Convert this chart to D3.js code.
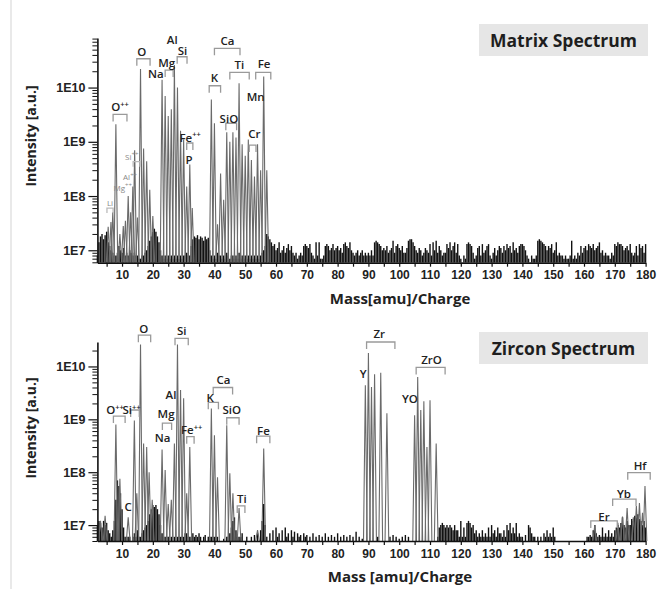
<!DOCTYPE html>
<html>
<head>
<meta charset="utf-8">
<script src="https://cdn.jsdelivr.net/npm/d3@7/dist/d3.min.js"></script>
<style>
  body { margin: 0; background: #fff; }
  svg { display: block; font-family: "Open Sans", "DejaVu Sans", sans-serif; }
</style>
</head>
<body>
<svg id="chart" width="660" height="589"></svg>
<script>
// ---------------- DATA ----------------
const massTicks = [10,20,30,40,50,60,70,80,90,100,110,120,130,140,150,160,170,180];
const intensityTickValues = [1e7, 1e8, 1e9, 1e10];
const intensityTickLabels = ["1E7", "1E8", "1E9", "1E10"];

// Noise floor, sampled every 0.5 amu starting at 2 amu, in units of 1E6
const noiseStartMass = 2;
const noiseStep = 0.5;
const matrixNoise = [
  8,14,18,20,16,19,22,14,12,10,9,8,8,9,12,10,9,11,8,9,
  8,10,9,8,9,8,8,7,7,8,8,9,10,12,15,18,22,25,22,18,
  14,10,8,7,8,7,8,7,8,7,8,7,8,7,8,7,8,8,9,8,
  8,12,16,18,17,19,16,18,17,15,18,16,17,10,8,7,8,7,9,8,
  8,7,8,7,9,8,7,8,8,7,8,7,9,7,8,7,8,7,8,7,
  8,7,8,7,8,7,8,9,10,12,20,18,16,14,12,13,10,11,14,9,
  10,12,9,11,13,10,12,9,8,9,7,8,9,8,12,13,12,11,13,9,
  8,7,14,8,14,7,7,8,12,13,12,10,11,13,10,11,12,10,11,9,
  13,14,12,11,14,10,9,8,9,10,8,9,10,8,9,8,9,8,10,8,
  14,15,14,13,12,10,11,10,12,9,10,11,15,9,12,13,11,10,12,9,
  9,11,15,16,16,14,12,10,9,11,10,8,9,11,10,9,13,8,14,10,
  15,9,12,10,8,9,9,13,11,14,10,12,14,9,13,8,7,6,8,7,
  13,14,13,12,9,7,8,11,12,8,13,9,10,12,13,8,7,9,11,8,
  10,12,11,9,12,10,13,11,12,9,14,10,11,9,12,13,13,12,10,8,
  7,6,8,7,7,8,15,16,15,14,13,12,10,12,11,13,9,10,14,8,
  9,8,8,7,8,7,7,8,15,7,8,7,9,8,12,9,11,12,10,13,
  12,11,13,10,11,12,14,9,10,8,9,8,8,7,9,8,13,12,14,13,
  13,12,10,11,12,10,13,9,8,9,12,8,13,11,12,9,13
];
const zirconNoise = [
  10,12,11,9,12,10,11,8,7,6,8,12,30,70,55,40,20,9,6,6,
  6,6,5,6,7,6,8,6,6,7,8,9,10,12,16,20,24,22,24,20,
  16,10,7,6,6,6,6,5,6,5,6,5,6,6,6,6,6,7,7,6,
  6,6,7,6,6.5,6,7,6,5,6,6.5,5,6,6,6,6,6,6,6,5,
  5,5,5.5,5,6,6,7,9,12,14,8,6,6,6,7,5,5,6,5,5,
  6,5,6.5,5,7,5,8,12,25,10,6,5,7,5,8,5,9,6,7,5,
  8,5,9,6,7,5,8,6,7.5,5,7,6,6.5,5,7,6,6.5,5,6,5,
  7,5,6,5,6.5,5,6,5,7,5,6,5,6.5,5,6,5,7,5,6,5,
  6.5,5,6,5,6.5,5,6,5,7.5,5,6,5,5.5,5,5,5,5,5,5,5,
  5,5,6,5,5,5,5,5,5,5,6,5,6.5,5,6,5,5.5,5,6,5,
  6.5,5,6,5,5,5,5,5,5,5,5,5,5,5,5,5,5,5,5,5,
  5,6,9,10,11,10,9,10,9,10,9,8,10,8,8,6,12,6,9,6,
  11,12,11,9,10,7,8,6,7,6,8,6,7,6,9,6,10,7,8,6,
  9,7,7,6,8,6,10,8,11,7,9,7,11,6,7,6,6,5,6.5,5,
  10,9,7,6,6,5,6,5,6,5,7,6,8,6,7,6,9,6,5,5,
  5,5,5,5,5,5,5,5,5,5,5,5,5,5,5,5,5,5,6,6,
  6.5,6,8,10,7,6,6.5,6,9,6,7,6,8,6,7,6,8,9,10,9,
  11,14,10,9,12,10,10,13,12,15,14,16,13,12,10,12,9
];

// Peaks (mass, intensity)
const matrixPeakMass = [5.5,6.4,7,8,9.3,10.4,11.1,12,12.8,13.5,14.1,15,16,17,18,19,20,
  23,24,25,26,27,28,29,30,31,32,32.8,39,40,41,42,43,44,45,46,47,48,49,50,51,52,53,54,55,56,57];
const matrixPeakIntensity = [2.7e7,3.3e7,5e7,2.1e9,2e7,2.8e7,3.5e7,1e8,5e7,1.5e8,7e8,4e7,2.2e10,7.5e8,4.4e8,1.3e8,4.3e7,
  1.4e10,7e9,3e9,4e9,2.6e10,1e10,1.6e9,1.1e9,1.5e8,3.8e8,6e7,6e9,2.2e9,3e7,2.6e8,8.5e7,1.5e9,1e9,1.5e9,1.2e9,1.2e10,9e8,5.5e8,1.1e9,4.6e8,2.3e8,9e8,3e8,1.6e10,3e8];

const zirconPeakMass = [3,4.5,8,9.3,12,14,14.8,16,17,18,18.8,19.8,23,24,25,26,27,28,29,30,31,32,
  39,40,41,44,45,46,48,54,56,89,90,91,92,94,96,105,106,107,108,109,110,112,
  163.5,171,172.5,174,176,177,178,179,179.8];
const zirconPeakIntensity = [1.2e7,1.5e7,8e8,7.5e7,1.4e7,9.5e8,4e7,2.6e10,3.5e8,3e8,1e8,3e7,2.7e8,1.1e8,2.5e7,3e7,3.5e8,2.6e10,3.6e9,2.5e9,4e7,3e8,
  1.6e9,5e8,8e7,7.7e8,9.5e7,4e7,2.1e7,8e6,2.8e8,4.4e9,1.8e10,4.1e9,7.1e9,7.6e9,1.3e9,1.2e9,6.3e9,1.5e9,2.2e9,3e8,2.3e9,3.5e8,
  1e7,1.1e7,1.45e7,2.1e7,1.4e7,2.3e7,2.6e7,1.7e7,5.5e7];

// Annotation labels (text, mass, intensity) and small/grey flag
const matrixLabelText  = ["O++","Si++","Al++","Mg++","Li","O","Na","Mg","Al","Si","Fe++","P","Ca","K","Ti","Fe","Mn","SiO","Cr"];
const matrixLabelMass  = [9.35,13.15,12.6,10.2,6.1,16.4,21,24.5,26.3,29.6,32.1,31.75,44.2,40,48.1,56.1,53.4,44.7,53];
const matrixLabelLevel = [4.4e9,5.3e8,2.2e8,1.4e8,7.4e7,4.5e10,1.8e10,2.9e10,7.5e10,4.8e10,1.2e9,4.6e8,7.3e10,1.5e10,2.6e10,2.7e10,6.8e9,2.6e9,1.4e9];
const matrixLabelMinor = [0,1,1,1,1,0,0,0,0,0,0,0,0,0,0,0,0,0,0];
// Brackets: start mass, end mass, intensity level
const matrixBracketStart = [7.1,13.6,5.1,14.8,24,27.9,31,40,38.3,45,53.4,43.7,51.3];
const matrixBracketEnd   = [11.6,15.8,7.1,19.1,26.6,31.1,33,48.3,42,51.3,58.3,47.2,53.5];
const matrixBracketLevel = [3.2e9,4.3e8,6e7,3.4e10,2.1e10,3.7e10,9.5e8,5.3e10,1.08e10,1.9e10,1.9e10,2.2e9,8.7e8];
const matrixBracketMinor = [0,1,1,0,0,0,0,0,0,0,0,0,0];

const zirconLabelText  = ["O++","Si++","C","O","Mg","Na","Al","Si","Fe++","Ca","K","SiO","Ti","Fe","Zr","Y","ZrO","YO","Hf","Yb","Er"];
const zirconLabelMass  = [7.7,13.1,12,17.1,24.3,23.2,25.9,29.4,32.6,42.9,38.6,45.6,48.9,55.9,93.5,88.3,110.5,103.5,178.2,173,166.5];
const zirconLabelLevel = [1.5e9,1.5e9,2.2e7,5.2e10,1.25e9,4.4e8,2.9e9,4.7e10,6.3e8,5.5e9,2.6e9,1.5e9,3.2e7,6e8,4.2e10,7.4e9,1.35e10,2.4e9,1.3e8,3.9e7,1.45e7];
const zirconBracketStart = [7.2,12.8,15.3,23.1,27.2,31,39.6,38,44,47.4,53.7,89.4,105.5,174.2,169.3,162.2];
const zirconBracketEnd   = [11,15.6,19.3,26.1,31.5,33.4,45.9,41.3,48,49.9,58,98.6,114.9,181.5,176.9,170.8];
const zirconBracketLevel = [1.15e9,1.5e9,3.9e10,8.5e8,3.4e10,4.7e8,4e9,2.1e9,1.07e9,2.3e7,4.8e8,2.9e10,9.6e9,9.8e7,3.1e7,1.2e7];

const panelTitles = ["Matrix Spectrum", "Zircon Spectrum"];
const xAxisTitles = ["Mass[amu]/Charge", "Mass [amu]/Charge"];
const yAxisTitle = "Intensity [a.u.]";

// ---------------- DRAW ----------------
const svg = d3.select("#chart");

// faint page border line at left
svg.append("line").attr("x1", 11).attr("x2", 11).attr("y1", 0).attr("y2", 589)
  .attr("stroke", "#e2e2e2").attr("stroke-width", 1.5);

const x = d3.scaleLinear().domain([2, 180]).range([97.4, 645.6]);

function drawPanel(cfg) {
  const y = d3.scaleLog().domain(cfg.yDomain).range(cfg.yRange);
  const g = svg.append("g");
  const base = cfg.yDomain[0];

  // noise
  const noisePts = cfg.noise.map((v, i) => ({ m: noiseStartMass + i * noiseStep, v: v * 1e6 }))
    .filter(d => d.v > base);
  g.append("g").selectAll("line").data(noisePts).join("line")
    .attr("x1", d => x(d.m)).attr("x2", d => x(d.m))
    .attr("y1", y(base)).attr("y2", d => y(d.v))
    .attr("stroke", "#111").attr("stroke-width", 1.4);

  // peaks
  const hw = 0.6;
  const line = d3.line().x(d => x(d[0])).y(d => y(d[1]));
  const peaks = cfg.peakMass.map((m, i) => [[m - hw, base], [m, cfg.peakInt[i]], [m + hw, base]]);
  g.append("g").selectAll("path").data(peaks).join("path")
    .attr("d", line).attr("fill", "none")
    .attr("stroke", "#6a6a6a").attr("stroke-width", 1.1);

  // x axis
  const xAxis = d3.axisBottom(x).tickValues(massTicks).tickSize(4).tickSizeOuter(0).tickPadding(4);
  const gx = g.append("g").attr("transform", `translate(0,${cfg.yRange[0]})`).call(xAxis);
  gx.selectAll("text").attr("font-size", 12).attr("font-weight", 600).attr("fill", "#222");
  const minorX = d3.axisBottom(x).tickValues(massTicks.map(t => t - 5)).tickSize(4).tickSizeOuter(0).tickFormat("");
  const gmx = g.append("g").attr("transform", `translate(0,${cfg.yRange[0]})`).call(minorX);
  gmx.select(".domain").remove();
  g.selectAll(".domain").attr("stroke", "#111").attr("stroke-width", 1.6);
  g.selectAll(".tick line").attr("stroke", "#111").attr("stroke-width", 1.2);

  // y axis
  const yAxis = d3.axisLeft(y).tickValues(intensityTickValues).tickSize(9).tickSizeOuter(0).tickPadding(3)
    .tickFormat((d, i) => intensityTickLabels[i]);
  const gy = g.append("g").attr("transform", `translate(${x(2)},0)`).call(yAxis);
  gy.selectAll("text").attr("font-size", 12.5).attr("font-weight", 700).attr("fill", "#222");
  const minorVals = y.ticks().filter(t => intensityTickValues.indexOf(t) < 0);
  const gmy = g.append("g").attr("transform", `translate(${x(2)},0)`)
    .call(d3.axisLeft(y).tickValues(minorVals).tickSize(5).tickSizeOuter(0).tickFormat(""));
  gmy.select(".domain").remove();
  gy.select(".domain").attr("stroke", "#111").attr("stroke-width", 1.6);
  gy.selectAll(".tick line").attr("stroke", "#111").attr("stroke-width", 1.2);
  gmy.selectAll(".tick line").attr("stroke", "#111").attr("stroke-width", 1);

  // brackets
  const bt = 7;
  cfg.bStart.forEach((s, i) => {
    const x1 = x(s), x2 = x(cfg.bEnd[i]), yy = y(cfg.bLevel[i]);
    const minor = cfg.bMinor && cfg.bMinor[i];
    g.append("path")
      .attr("d", `M${x1},${yy + (minor ? 5 : bt)}V${yy}H${x2}V${yy + (minor ? 5 : bt)}`)
      .attr("fill", "none").attr("stroke", minor ? "#bbb" : "#9a9a9a").attr("stroke-width", 1.3);
  });

  // labels
  cfg.lText.forEach((t, i) => {
    const minor = cfg.lMinor && cfg.lMinor[i];
    const txt = g.append("text")
      .attr("x", x(cfg.lMass[i])).attr("y", y(cfg.lLevel[i]))
      .attr("dy", "0.36em").attr("text-anchor", "middle")
      .attr("font-size", minor ? 8 : 11.5).attr("font-weight", minor ? 400 : 600)
      .attr("fill", minor ? "#888" : "#222");
    if (t.endsWith("++")) {
      txt.append("tspan").text(t.slice(0, -2));
      txt.append("tspan").text("++").attr("font-size", minor ? 6 : 7.5).attr("dy", "-0.6em");
    } else {
      txt.text(t);
    }
  });

  // title box
  g.append("rect").attr("x", 479).attr("y", cfg.boxY).attr("width", 169).attr("height", 32)
    .attr("fill", "#e6e6e6");
  g.append("text").attr("x", 563.5).attr("y", cfg.boxY + 22.5).attr("text-anchor", "middle")
    .attr("font-size", 17.5).attr("font-weight", 700).attr("fill", "#1e1e1e").text(cfg.title);

  // axis titles
  g.append("text").attr("x", 400).attr("y", cfg.xTitleY).attr("text-anchor", "middle")
    .attr("font-size", 15).attr("font-weight", 700).attr("fill", "#222").text(cfg.xTitle);
  g.append("text").attr("transform", `translate(36,${cfg.yTitleY}) rotate(-90)`)
    .attr("text-anchor", "middle")
    .attr("font-size", 14).attr("font-weight", 700).attr("fill", "#222").text(yAxisTitle);
}

drawPanel({
  yDomain: [5.9e6, 8.2e10], yRange: [262.7, 38],
  noise: matrixNoise, peakMass: matrixPeakMass, peakInt: matrixPeakIntensity,
  bStart: matrixBracketStart, bEnd: matrixBracketEnd, bLevel: matrixBracketLevel, bMinor: matrixBracketMinor,
  lText: matrixLabelText, lMass: matrixLabelMass, lLevel: matrixLabelLevel, lMinor: matrixLabelMinor,
  title: panelTitles[0], boxY: 24, xTitle: xAxisTitles[0], xTitleY: 304, yTitleY: 136
});
drawPanel({
  yDomain: [5e6, 2.9e10], yRange: [541, 342],
  noise: zirconNoise, peakMass: zirconPeakMass, peakInt: zirconPeakIntensity,
  bStart: zirconBracketStart, bEnd: zirconBracketEnd, bLevel: zirconBracketLevel, bMinor: null,
  lText: zirconLabelText, lMass: zirconLabelMass, lLevel: zirconLabelLevel, lMinor: null,
  title: panelTitles[1], boxY: 332, xTitle: xAxisTitles[1], xTitleY: 582, yTitleY: 428
});
</script>
</body>
</html>
